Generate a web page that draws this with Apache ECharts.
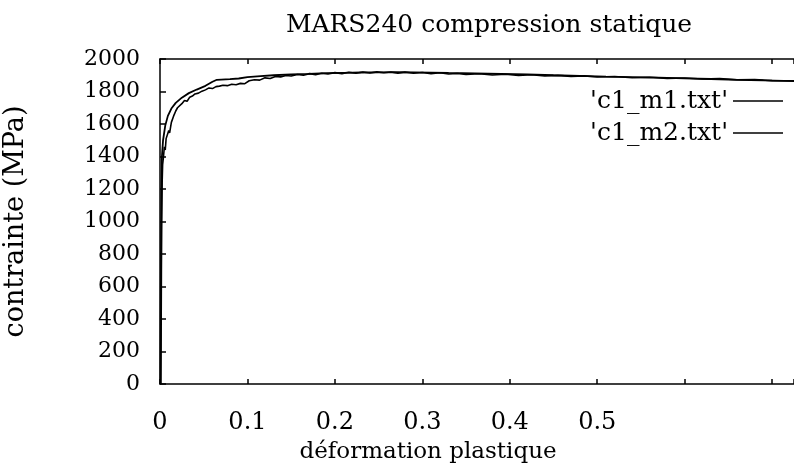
<!DOCTYPE html>
<html>
<head>
<meta charset="utf-8">
<script src="https://cdn.jsdelivr.net/npm/echarts@6/dist/echarts.min.js"></script>
<style>html,body{margin:0;padding:0;background:#fff}#c{width:794px;height:474px}</style>
</head>
<body>
<div id="c"></div>
<script>
const titleText = "MARS240 compression statique";
const xName = "déformation plastique";
const yName = "contrainte (MPa)";
const seriesNames = ["'c1_m1.txt'", "'c1_m2.txt'"];
const xTickLabels = ["0", "0.1", "0.2", "0.3", "0.4", "0.5"];

const strain1 = [0.0005,0.0008,0.0012,0.0016,0.0022,0.0035,0.006,0.009,0.013,0.018,0.025,0.033,0.042,0.052,0.060,0.065,0.080,0.090,0.100,0.115,0.130,0.150,0.170,0.190,0.210,0.230,0.250,0.270,0.290,0.310,0.330,0.360,0.390,0.420,0.450,0.480,0.510,0.540,0.570,0.600,0.630,0.660,0.690,0.725];
const stress1 = [0,400,900,1200,1400,1500,1590,1650,1695,1730,1762,1790,1812,1835,1860,1872,1876,1880,1888,1894,1900,1906,1909,1913,1915,1917,1918,1919,1918,1916,1914,1912,1909,1905,1900,1896,1892,1889,1885,1881,1877,1872,1868,1864];

const strain2 = [0.001,0.0013,0.0016,0.002,0.0025,0.003,0.004,0.005,0.006,0.007,0.008,0.010,0.011,0.013,0.014,0.016,0.018,0.020,0.022,0.025,0.028,0.031,0.034,0.037,0.040,0.044,0.048,0.052,0.056,0.060,0.064,0.068,0.072,0.077,0.082,0.087,0.092,0.097,0.102,0.108,0.114,0.120,0.126,0.132,0.138,0.144,0.150,0.157,0.164,0.171,0.178,0.185,0.192,0.200,0.208,0.216,0.224,0.232,0.240,0.248,0.256,0.264,0.272,0.280,0.290,0.300,0.310,0.320,0.330,0.340,0.350,0.365,0.380,0.395,0.410,0.425,0.440,0.455,0.470,0.485,0.500,0.520,0.540,0.560,0.580,0.600,0.620,0.640,0.660,0.680,0.700,0.725];
const stress2 = [0,300,700,1000,1250,1350,1400,1460,1440,1510,1500,1560,1545,1610,1600,1655,1680,1700,1712,1725,1745,1740,1765,1772,1785,1790,1802,1810,1822,1818,1830,1833,1838,1836,1845,1842,1850,1848,1866,1872,1870,1884,1880,1893,1890,1898,1895,1905,1900,1910,1904,1912,1908,1916,1910,1918,1912,1920,1914,1921,1915,1920,1913,1919,1912,1917,1910,1915,1908,1911,1905,1909,1902,1906,1899,1903,1896,1899,1893,1896,1889,1892,1885,1888,1881,1883,1877,1879,1872,1874,1867,1866];

const FONT = "DejaVu Serif";
const zip = (a, b) => a.map((v, i) => [v, b[i]]);

const chart = echarts.init(document.getElementById('c'), null, {renderer: 'canvas'});
chart.setOption({
  animation: false,
  backgroundColor: '#fff',
  title: {
    text: titleText,
    left: 484, top: 8, textAlign: 'center',
    textStyle: {fontFamily: FONT, fontSize: 25, fontWeight: 'normal', color: '#000'}
  },
  legend: {
    orient: 'vertical', right: 11, top: 85, align: 'right', padding: 0,
    itemWidth: 50, itemHeight: 1.5, itemGap: 0, icon: 'rect',
    textStyle: {fontFamily: FONT, fontSize: 25, color: '#000', lineHeight: 32},
    data: seriesNames
  },
  grid: {left: 160, right: 0, top: 59, bottom: 90, containLabel: false, outerBoundsMode: 'none'},
  xAxis: [{
    type: 'value', min: 0, max: 0.725, interval: 0.1, position: 'bottom',
    name: xName, nameLocation: 'middle', nameGap: 57,
    nameTextStyle: {fontFamily: FONT, fontSize: 23, color: '#000', padding: [0, 98, 0, 0]},
    axisLine: {show: true, onZero: false, lineStyle: {color: '#000', width: 1.5}},
    axisTick: {show: true, inside: true, length: 5, lineStyle: {color: '#000', width: 1.5}},
    axisLabel: {fontFamily: FONT, fontSize: 24, color: '#000', margin: 26, lineHeight: 26,
      formatter: v => { const i = Math.round(v * 10); return i < xTickLabels.length ? xTickLabels[i] : ''; }},
    splitLine: {show: false}
  }, {
    type: 'value', min: 0, max: 0.725, interval: 0.1, position: 'top',
    axisLine: {show: true, onZero: false, lineStyle: {color: '#000', width: 1.5}},
    axisTick: {show: true, inside: true, length: 5, lineStyle: {color: '#000', width: 1.5}},
    axisLabel: {show: false}, splitLine: {show: false}
  }],
  yAxis: {
    type: 'value', min: 0, max: 2000, interval: 200,
    name: yName, nameLocation: 'middle', nameGap: 131, nameRotate: 90,
    nameTextStyle: {fontFamily: FONT, fontSize: 27, color: '#000'},
    axisLine: {show: true, onZero: false, lineStyle: {color: '#000', width: 1.5}},
    axisTick: {show: true, inside: true, length: 6, lineStyle: {color: '#000', width: 1.5}},
    axisLabel: {fontFamily: FONT, fontSize: 22, color: '#000', margin: 20, formatter: v => String(v)},
    splitLine: {show: false}
  },
  series: [{
    name: seriesNames[0], type: 'line', xAxisIndex: 0, showSymbol: false, symbol: 'none',
    lineStyle: {color: '#000', width: 1.8}, itemStyle: {color: '#000'},
    data: zip(strain1, stress1)
  }, {
    name: seriesNames[1], type: 'line', xAxisIndex: 0, showSymbol: false, symbol: 'none',
    lineStyle: {color: '#000', width: 1.6}, itemStyle: {color: '#000'},
    data: zip(strain2, stress2)
  }]
});
</script>
</body>
</html>
